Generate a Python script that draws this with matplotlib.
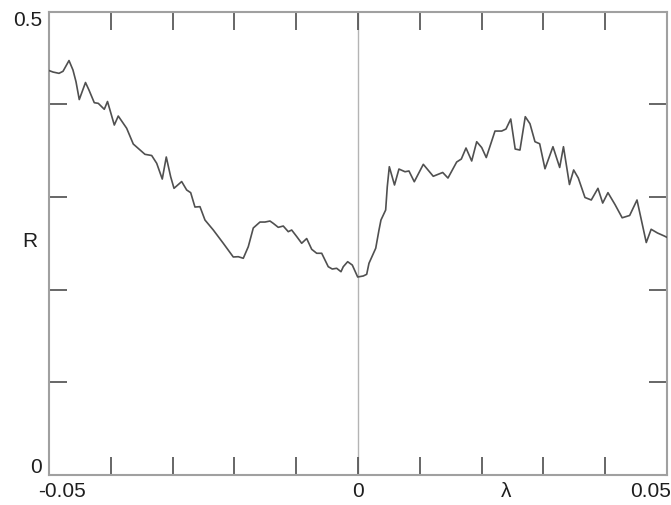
import numpy as np
import matplotlib.pyplot as plt

# R(lambda) curve
lam = [-0.05, -0.04935, -0.04838, -0.04773, -0.04676, -0.04612, -0.04563, -0.04510,
       -0.04409, -0.04353, -0.04267, -0.04202, -0.04105, -0.04053, -0.03943, -0.03879,
       -0.03743, -0.03636, -0.03447, -0.03338, -0.03257, -0.03167, -0.03102, -0.03031,
       -0.02977, -0.02853, -0.02772, -0.02707, -0.02638, -0.02557, -0.02476, -0.02341,
       -0.02180, -0.02018, -0.01937, -0.01856, -0.01775, -0.01694, -0.01586, -0.01505,
       -0.01424, -0.01371, -0.01290, -0.01209, -0.01128, -0.01073, -0.00992, -0.00911,
       -0.00830, -0.00749, -0.00668, -0.00587, -0.00481, -0.00416, -0.00345, -0.00275,
       -0.00238, -0.00167, -0.00092, -0.00005, 0.00086, 0.00141, 0.00178, 0.00287,
       0.00340, 0.00372, 0.00448, 0.00474, 0.00507, 0.00591, 0.00663, 0.00761,
       0.00825, 0.00911, 0.01057, 0.01218, 0.01371, 0.01456, 0.01597, 0.01672,
       0.01748, 0.01840, 0.01921, 0.02002, 0.02076, 0.02217, 0.02325, 0.02395,
       0.02472, 0.02544, 0.02621, 0.02707, 0.02783, 0.02864, 0.02940, 0.03026,
       0.03155, 0.03264, 0.03325, 0.03422, 0.03490, 0.03565, 0.03673, 0.03775,
       0.03883, 0.03960, 0.04045, 0.04159, 0.04275, 0.04396, 0.04515, 0.04665,
       0.04744, 0.04846, 0.04951, 0.05]
R = [0.4365, 0.4349, 0.4335, 0.4357, 0.4473, 0.4371, 0.4245, 0.4052,
     0.4236, 0.4155, 0.4018, 0.4011, 0.3947, 0.4031, 0.3777, 0.3874,
     0.3742, 0.3572, 0.3461, 0.3448, 0.3364, 0.3194, 0.3432, 0.3219,
     0.3094, 0.3167, 0.3076, 0.3047, 0.2892, 0.2896, 0.2752, 0.2644,
     0.2501, 0.2353, 0.2356, 0.2339, 0.2464, 0.2666, 0.2730, 0.2730,
     0.2741, 0.2716, 0.2673, 0.2687, 0.2626, 0.2644, 0.2574, 0.2501,
     0.2552, 0.2436, 0.2393, 0.2393, 0.2248, 0.2223, 0.2231, 0.2194,
     0.2248, 0.2302, 0.2266, 0.2137, 0.2148, 0.2166, 0.2285, 0.2447,
     0.2644, 0.2752, 0.2860, 0.3111, 0.3327, 0.3130, 0.3302, 0.3273,
     0.3281, 0.3165, 0.3353, 0.3224, 0.3265, 0.3205, 0.3378, 0.3410,
     0.3529, 0.3389, 0.3597, 0.3534, 0.3426, 0.3712, 0.3712, 0.3734,
     0.3842, 0.3518, 0.3507, 0.3867, 0.3791, 0.3597, 0.3575, 0.3305,
     0.3543, 0.3319, 0.3543, 0.3135, 0.3292, 0.3205, 0.2995, 0.2968,
     0.3094, 0.2935, 0.3047, 0.2919, 0.2776, 0.2801, 0.2968, 0.2509,
     0.2652, 0.2612, 0.2581, 0.2565]

x_ticks = [-0.04, -0.03, -0.02, -0.01, 0, 0.01, 0.02, 0.03, 0.04]
y_ticks = [0.1, 0.2, 0.3, 0.4]

plt.rcParams['font.family'] = ['Liberation Sans', 'DejaVu Sans']

fig = plt.figure(figsize=(6.71, 5.05), dpi=100)
ax = fig.add_axes([0.073, 0.0594, 0.921, 0.9174])

ax.axvline(0, color='#b4b4b4', lw=1.0, zorder=1)
ax.plot(lam, R, color='#505050', lw=1.2, zorder=3)

ax.set_xlim(-0.05, 0.05)
ax.set_ylim(0, 0.5)
ax.set_xticks(x_ticks)
ax.set_yticks(y_ticks)
ax.tick_params(direction='in', length=13, width=1.3, color='#5a5a5a',
               top=True, right=True, labelbottom=False, labelleft=False)
for s in ax.spines.values():
    s.set_color('#a0a0a0')
    s.set_linewidth(1.5)

fs = 15
tc = '#1e1e1e'
ax.text(-0.04794, -0.008, '-0.05', ha='center', va='top', fontsize=fs, color=tc)
ax.text(0, -0.008, '0', ha='center', va='top', fontsize=fs, color=tc)
ax.text(0.0507, -0.008, '0.05', ha='right', va='top', fontsize=fs, color=tc)
ax.text(0.0240, -0.008, 'λ', ha='center', va='top', fontsize=fs, color=tc)
ax.text(-0.0511, 0.501, '0.5', ha='right', va='top', fontsize=fs, color=tc)
ax.text(-0.0511, -0.002, '0', ha='right', va='bottom', fontsize=fs, color=tc)
ax.text(-0.0519, 0.252, 'R', ha='right', va='center', fontsize=fs, color=tc)

fig.savefig('out.png', dpi=100)
